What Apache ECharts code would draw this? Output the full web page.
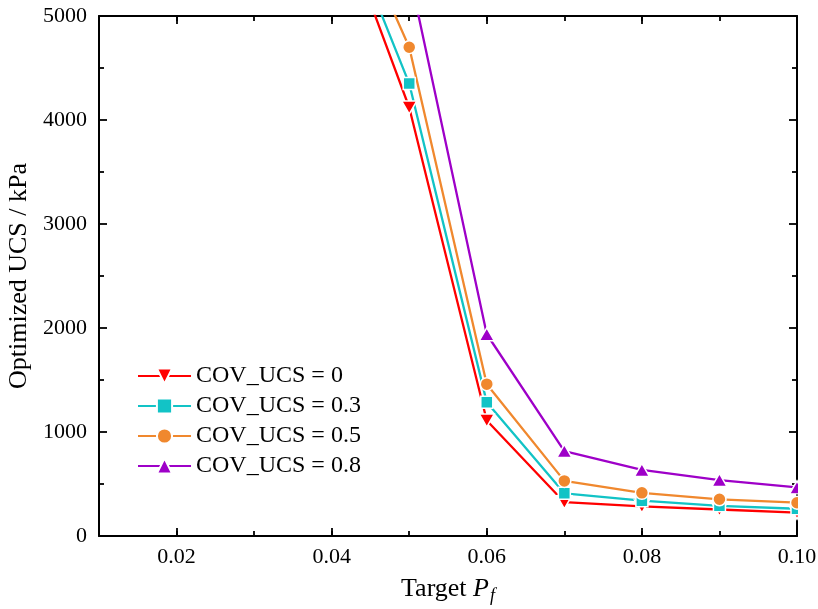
<!DOCTYPE html>
<html>
<head>
<meta charset="utf-8">
<script src="https://cdn.jsdelivr.net/npm/echarts@6/dist/echarts.min.js"></script>
<style>
  html, body { margin: 0; padding: 0; background: #fff; }
  #chart { width: 818px; height: 609px; }
</style>
</head>
<body>
<div id="chart"></div>
<script>
// Target failure probability (x) and optimized UCS in kPa for each COV of UCS
const targetPf = [0.04, 0.05, 0.06, 0.07, 0.08, 0.09, 0.10];
const ucsCov0  = [6130, 4120, 1110, 325, 285, 255, 225];
const ucsCov03 = [6210, 4350, 1285, 410, 340, 290, 262];
const ucsCov05 = [6380, 4700, 1460, 530, 415, 353, 320];
const ucsCov08 = [null, 5420, 1940, 817, 635, 538, 468];

const seriesNames = ['COV_UCS = 0', 'COV_UCS = 0.3', 'COV_UCS = 0.5', 'COV_UCS = 0.8'];
const xMajorTicks = [0.02, 0.04, 0.06, 0.08, 0.10];
const yTicks = [0, 1000, 2000, 3000, 4000, 5000];

const FONT = "'Liberation Serif', 'Times New Roman', serif";
const GRID = { left: 99, right: 21, top: 16, bottom: 73, containLabel: false, outerBoundsMode: 'none' };

function pairs(ys) {
  return targetPf.map((x, i) => [x, ys[i]]);
}

const chart = echarts.init(document.getElementById('chart'), null, { renderer: 'canvas' });

const axisLineStyle = { color: '#000', width: 2 };
const tickStyle = { color: '#000', width: 1.8 };

function makeSeries(name, ys, color, symbol, size, rotate) {
  return {
    name: name,
    type: 'line',
    xAxisIndex: 0,
    yAxisIndex: 0,
    data: pairs(ys),
    connectNulls: false,
    symbol: symbol,
    symbolSize: size,
    symbolRotate: rotate || 0,
    showAllSymbol: true,
    clip: true,
    lineStyle: { color: color, width: 2.3 },
    itemStyle: { color: color, borderColor: '#fff', borderWidth: 1.5 },
    emphasis: { disabled: true },
    animation: false
  };
}

const option = {
  animation: false,
  backgroundColor: '#fff',
  textStyle: { fontFamily: FONT, color: '#000' },
  grid: [Object.assign({}, GRID), Object.assign({}, GRID)],
  legend: {
    orient: 'vertical',
    left: 132,
    top: 359,
    itemWidth: 53,
    itemHeight: 19,
    itemGap: 6,
    textStyle: { fontFamily: FONT, fontSize: 24, color: '#000', lineHeight: 24 },
    data: seriesNames
  },
  xAxis: [
    {
      // main bottom axis: labels and long ticks
      type: 'value', gridIndex: 0, position: 'bottom',
      min: 0.01, max: 0.10,
      name: '{t|Target }{p|P}{f|f}',
      nameLocation: 'middle',
      nameGap: 40,
      nameTextStyle: {
        fontFamily: FONT, fontSize: 26, color: '#000',
        rich: {
          t: { fontFamily: FONT, fontSize: 26, color: '#000', verticalAlign: 'top', lineHeight: 26 },
          p: { fontFamily: FONT, fontSize: 26, color: '#000', fontStyle: 'italic', verticalAlign: 'top', lineHeight: 26 },
          f: { fontFamily: FONT, fontSize: 18, color: '#000', fontStyle: 'italic', verticalAlign: 'top', lineHeight: 18, padding: [11, 0, 0, 1] }
        }
      },
      axisLine: { show: true, onZero: false, lineStyle: axisLineStyle },
      axisTick: { show: true, inside: true, length: 8, customValues: xMajorTicks, lineStyle: tickStyle },
      axisLabel: {
        show: true, margin: 10, fontFamily: FONT, fontSize: 22, color: '#000',
        customValues: xMajorTicks,
        formatter: v => v.toFixed(2)
      },
      splitLine: { show: false }
    },
    {
      // mirrored top axis
      type: 'value', gridIndex: 0, position: 'top',
      min: 0.01, max: 0.10,
      axisLine: { show: true, onZero: false, lineStyle: axisLineStyle },
      axisTick: { show: true, inside: true, length: 8, customValues: xMajorTicks, lineStyle: tickStyle },
      axisLabel: { show: false, customValues: xMajorTicks },
      splitLine: { show: false }
    },
    {
      // short ticks every 0.01 (bottom)
      type: 'value', gridIndex: 1, position: 'bottom',
      min: 0.01, max: 0.10, interval: 0.01,
      axisLine: { show: false },
      axisTick: { show: true, inside: true, length: 5, lineStyle: tickStyle },
      axisLabel: { show: false },
      splitLine: { show: false }
    },
    {
      // short ticks every 0.01 (top)
      type: 'value', gridIndex: 1, position: 'top',
      min: 0.01, max: 0.10, interval: 0.01,
      axisLine: { show: false },
      axisTick: { show: true, inside: true, length: 5, lineStyle: tickStyle },
      axisLabel: { show: false },
      splitLine: { show: false }
    }
  ],
  yAxis: [
    {
      type: 'value', gridIndex: 0, position: 'left',
      min: yTicks[0], max: yTicks[yTicks.length - 1], interval: 1000,
      name: 'Optimized UCS / kPa',
      nameLocation: 'middle',
      nameGap: 64,
      nameRotate: 90,
      nameTextStyle: { fontFamily: FONT, fontSize: 26, color: '#000' },
      axisLine: { show: true, onZero: false, lineStyle: axisLineStyle },
      axisTick: { show: true, inside: true, length: 8, lineStyle: tickStyle },
      minorTick: { show: true, splitNumber: 2, length: 5, lineStyle: tickStyle },
      axisLabel: { show: true, margin: 12, fontFamily: FONT, fontSize: 22, color: '#000', formatter: v => String(v) },
      splitLine: { show: false },
      minorSplitLine: { show: false }
    },
    {
      type: 'value', gridIndex: 0, position: 'right',
      min: yTicks[0], max: yTicks[yTicks.length - 1], interval: 1000,
      axisLine: { show: true, onZero: false, lineStyle: axisLineStyle },
      axisTick: { show: true, inside: true, length: 8, lineStyle: tickStyle },
      minorTick: { show: true, splitNumber: 2, length: 5, lineStyle: tickStyle },
      axisLabel: { show: false },
      splitLine: { show: false }
    },
    { type: 'value', gridIndex: 1, min: 0, max: 5000, show: false }
  ],
  series: [
    makeSeries(seriesNames[0], ucsCov0, '#FF0000', 'triangle', [15, 13], 180),
    makeSeries(seriesNames[1], ucsCov03, '#12C3C6', 'rect', 12),
    makeSeries(seriesNames[2], ucsCov05, '#F0882E', 'circle', 13),
    makeSeries(seriesNames[3], ucsCov08, '#9E00C8', 'triangle', [15, 13])
  ],
  graphic: [
    {
      // markers at the right edge are cut by the plot frame
      type: 'rect', z: 100,
      shape: { x: 798, y: 0, width: 30, height: 540 },
      style: { fill: '#fff' }
    }
  ]
};

chart.setOption(option);
</script>
</body>
</html>
